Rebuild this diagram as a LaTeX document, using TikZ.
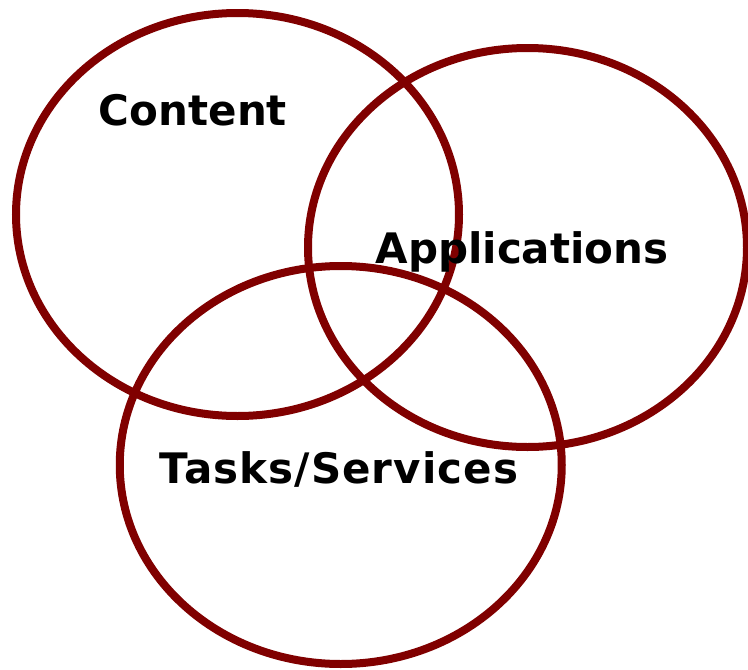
\documentclass[tikz,border=0pt]{standalone}
\usepackage{fontspec}
\setmainfont{DejaVu Sans}
\usetikzlibrary{shapes.geometric}
\definecolor{ring}{HTML}{800000}
\begin{document}
\begin{tikzpicture}[x=1pt,y=-1pt,
  ring/.style={ellipse, draw=ring, line width=8pt, inner sep=0pt},
  lbl/.style={font=\fontsize{42}{50}\selectfont\bfseries, text=black, inner sep=0pt, anchor=base}]
  \useasboundingbox (0,0) rectangle (748,670);
  \node[ring, minimum width=443pt, minimum height=403pt] (content) at (237.5,214.5) {};
  \node[ring, minimum width=439pt, minimum height=399pt] (apps) at (527.5,247.5) {};
  \node[ring, minimum width=442pt, minimum height=398pt] (tasks) at (340.75,465) {};
  \node[lbl] (tcontent) at (193,125) {Content};
  \node[lbl] (tapps) at (522,263) {Applications};
  \node[lbl] (ttasks) at (339,483) {\addfontfeature{LetterSpace=2.5}Tasks/Services};
\end{tikzpicture}
\end{document}
